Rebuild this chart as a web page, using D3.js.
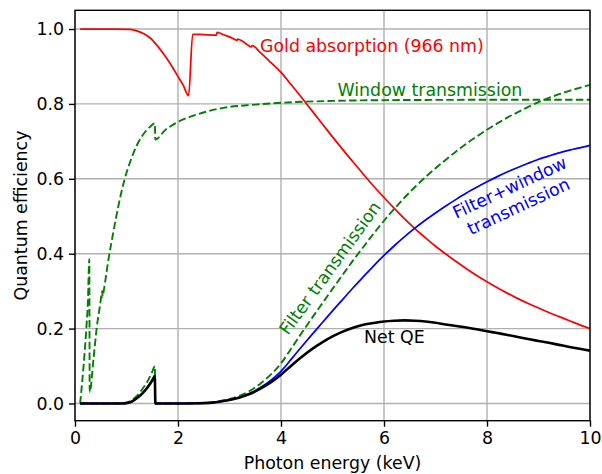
<!DOCTYPE html>
<html><head><meta charset="utf-8">
<script src="https://cdn.jsdelivr.net/npm/d3@7"></script>
<style>
html,body{margin:0;padding:0;background:#fff;}
svg{display:block;font-family:"DejaVu Sans",sans-serif;}
</style></head>
<body>
<svg id="chart" width="602" height="474"></svg>
<script>
// ---------- data ----------
const xTicks = [0, 2, 4, 6, 8, 10];
const yTicks = [0.0, 0.2, 0.4, 0.6, 0.8, 1.0];

const goldE = [0.1, 0.8, 1.07, 1.2, 1.46, 1.6, 1.78, 2.04, 2.1, 2.206, 2.285, 2.5, 2.743, 2.76, 2.9, 3.0, 3.148, 3.16, 3.3, 3.425, 3.44, 3.6, 3.8, 4.0, 4.2, 4.4, 4.6, 4.8, 5.0, 5.2, 5.4, 5.6, 5.8, 6.0, 6.2, 6.4, 6.6, 6.8, 7.0, 7.2, 7.4, 7.6, 7.8, 8.0, 8.2, 8.4, 8.6, 8.8, 9.0, 9.2, 9.4, 9.6, 9.8, 10.0];
const goldAbs = [1.0, 1.0, 0.999, 0.995, 0.976, 0.955, 0.922, 0.864, 0.85, 0.822, 0.986, 0.985, 0.984, 0.991, 0.984, 0.979, 0.970, 0.973, 0.963, 0.952, 0.956, 0.937, 0.911, 0.884, 0.851, 0.817, 0.782, 0.747, 0.712, 0.678, 0.645, 0.612, 0.58, 0.55, 0.521, 0.493, 0.467, 0.443, 0.42, 0.399, 0.379, 0.36, 0.342, 0.325, 0.309, 0.294, 0.28, 0.267, 0.255, 0.243, 0.232, 0.221, 0.21, 0.2];

const windowE = [0.1, 0.16, 0.22, 0.25, 0.278, 0.285, 0.36, 0.42, 0.49, 0.53, 0.535, 0.56, 0.65, 0.745, 0.84, 0.96, 1.07, 1.2, 1.36, 1.45, 1.55, 1.56, 1.75, 2.0, 2.33, 2.9, 3.5, 4.0, 5.0, 6.0, 8.0, 10.0];
const windowT = [0.0, 0.09, 0.2, 0.27, 0.385, 0.03, 0.12, 0.2, 0.265, 0.30, 0.285, 0.303, 0.385, 0.458, 0.526, 0.597, 0.645, 0.689, 0.725, 0.738, 0.748, 0.705, 0.73, 0.752, 0.77, 0.79, 0.798, 0.803, 0.808, 0.81, 0.811, 0.811];

const bandE = [0.1, 0.9, 1.0, 1.1, 1.2, 1.3, 1.4, 1.5, 1.55, 1.56, 2.0, 2.4, 2.6, 2.8, 3.0, 3.2, 3.4, 3.6, 3.8, 4.0, 4.2, 4.4, 4.6, 4.8, 5.0, 5.2, 5.4, 5.6, 5.8, 6.0, 6.2, 6.4, 6.6, 6.8, 7.0, 7.2, 7.4, 7.6, 7.8, 8.0, 8.2, 8.4, 8.6, 8.8, 9.0, 9.2, 9.4, 9.6, 9.8, 10.0];
const filterT = [0, 0, 0.002, 0.008, 0.02, 0.037, 0.057, 0.085, 0.1, 0, 0, 0.0005, 0.002, 0.006, 0.012, 0.021, 0.034, 0.053, 0.077, 0.107, 0.147, 0.188, 0.228, 0.267, 0.306, 0.344, 0.382, 0.418, 0.454, 0.488, 0.52, 0.55, 0.578, 0.604, 0.628, 0.651, 0.673, 0.694, 0.713, 0.731, 0.748, 0.764, 0.778, 0.792, 0.805, 0.816, 0.826, 0.835, 0.843, 0.851];
const filterWindowT = [0, 0, 0.001, 0.005, 0.014, 0.026, 0.042, 0.063, 0.075, 0, 0, 0.0004, 0.0016, 0.0047, 0.0095, 0.0167, 0.0271, 0.0424, 0.0618, 0.0859, 0.1183, 0.1514, 0.1839, 0.2155, 0.2472, 0.2781, 0.309, 0.3386, 0.3677, 0.3953, 0.4212, 0.4455, 0.4682, 0.4892, 0.5087, 0.5273, 0.5451, 0.5621, 0.5775, 0.5921, 0.6059, 0.6188, 0.6302, 0.6415, 0.6521, 0.661, 0.6691, 0.6764, 0.6828, 0.6893];
const netQE = [0, 0, 0.001, 0.005, 0.0139, 0.0257, 0.0412, 0.0612, 0.0725, 0, 0, 0.0004, 0.0016, 0.0047, 0.0093, 0.0162, 0.0259, 0.0397, 0.0563, 0.077, 0.101, 0.124, 0.145, 0.163, 0.179, 0.192, 0.202, 0.21, 0.215, 0.219, 0.221, 0.222, 0.221, 0.219, 0.2155, 0.211, 0.207, 0.203, 0.198, 0.193, 0.188, 0.183, 0.1775, 0.172, 0.167, 0.162, 0.1565, 0.151, 0.146, 0.141];

// ---------- layout ----------
const FS = 17.36;
const svg = d3.select("#chart");
const L = 75, R = 590, T = 10.3, B = 420.7;
const x = d3.scaleLinear().domain([0, 10]).range([L, R]);
const y = d3.scaleLinear().domain([-0.046, 1.05]).range([B, T]);

svg.append("defs").append("clipPath").attr("id", "clip")
  .append("rect").attr("x", L).attr("y", T).attr("width", R - L).attr("height", B - T);

// grid
const grid = svg.append("g");
grid.selectAll(".gx").data(xTicks).join("line")
  .attr("x1", d => x(d)).attr("x2", d => x(d)).attr("y1", T).attr("y2", B)
  .attr("stroke", "#b0b0b0").attr("stroke-width", 1.39);
grid.selectAll(".gy").data(yTicks).join("line")
  .attr("y1", d => y(d)).attr("y2", d => y(d)).attr("x1", L).attr("x2", R)
  .attr("stroke", "#b0b0b0").attr("stroke-width", 1.39);

// lines
const line = d3.line().x(d => x(d[0])).y(d => y(d[1])).curve(d3.curveMonotoneX);
const plot = svg.append("g").attr("clip-path", "url(#clip)");
function draw(E, V, color, width, dash) {
  const p = plot.append("path").datum(d3.zip(E, V)).attr("d", line)
    .attr("fill", "none").attr("stroke", color).attr("stroke-width", width)
    .attr("stroke-linejoin", "round");
  if (dash) p.attr("stroke-dasharray", dash);
}
draw(goldE, goldAbs, "#ff0000", 1.74);
draw(windowE, windowT, "#008000", 1.9, "7.5,3.3");
draw(bandE, filterT, "#008000", 1.9, "7.5,3.3");
draw(bandE, filterWindowT, "#0000ff", 1.74);
draw(bandE, netQE, "#000000", 2.6);

// axes
const xAxis = d3.axisBottom(x).tickValues(xTicks).tickFormat(d3.format("d")).tickSize(6).tickPadding(5);
const yAxis = d3.axisLeft(y).tickValues(yTicks).tickFormat(d3.format(".1f")).tickSize(6).tickPadding(5);
const gx = svg.append("g").attr("transform", `translate(0,${B})`).call(xAxis);
const gy = svg.append("g").attr("transform", `translate(${L},0)`).call(yAxis);
[gx, gy].forEach(g => {
  g.select(".domain").remove();
  g.selectAll(".tick line").attr("stroke", "#000").attr("stroke-width", 1.39);
  g.selectAll(".tick text").attr("font-family", "DejaVu Sans").attr("font-size", FS).attr("fill", "#000");
});
svg.append("rect").attr("x", L).attr("y", T).attr("width", R - L).attr("height", B - T)
  .attr("fill", "none").attr("stroke", "#000").attr("stroke-width", 1.39);

// axis labels
svg.append("text").attr("x", (L + R) / 2).attr("y", 469).attr("text-anchor", "middle")
  .attr("font-size", FS).text("Photon energy (keV)");
svg.append("text").attr("transform", `translate(27,${(T + B) / 2}) rotate(-90)`)
  .attr("text-anchor", "middle").attr("font-size", FS).text("Quantum efficiency");

// annotations
svg.append("text").attr("x", 260).attr("y", 51.5).attr("fill", "#ff0000").attr("font-size", FS)
  .text("Gold absorption (966 nm)");
svg.append("text").attr("x", 337.5).attr("y", 96).attr("fill", "#008000").attr("font-size", FS)
  .text("Window transmission");
svg.append("text").attr("x", 364).attr("y", 342.5).attr("fill", "#000").attr("font-size", FS)
  .text("Net QE");
svg.append("text").attr("transform", "translate(288,336) rotate(-54)")
  .attr("fill", "#008000").attr("font-size", FS).text("Filter transmission");
const fw = svg.append("g").attr("transform", "translate(514,197) rotate(-25)")
  .attr("fill", "#0000ff").attr("font-size", FS).attr("text-anchor", "middle");
fw.append("text").attr("y", -10.4).attr("dominant-baseline", "central").text("Filter+window");
fw.append("text").attr("y", 10.4).attr("dominant-baseline", "central").text("transmission");
</script>
</body></html>
